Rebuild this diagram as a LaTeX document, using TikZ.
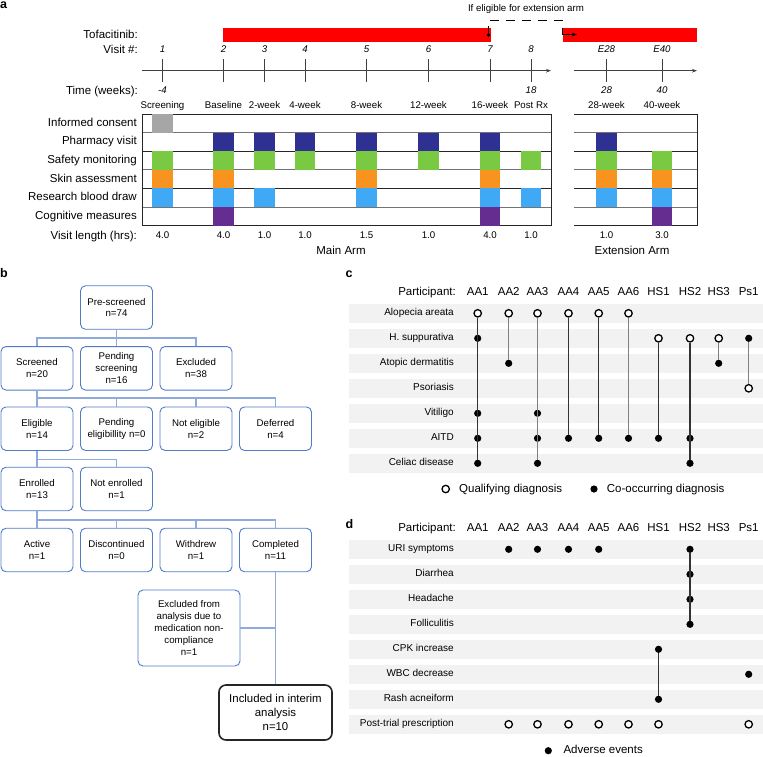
\documentclass[tikz,border=0pt]{standalone}
\usepackage{fontspec}
\setmainfont{Liberation Sans}
\usetikzlibrary{arrows.meta,calc}
\definecolor{cgrey}{HTML}{A6A6A6}
\definecolor{cnavy}{HTML}{2E3192}
\definecolor{cgreen}{HTML}{7AC943}
\definecolor{corange}{HTML}{F7931E}
\definecolor{cblue}{HTML}{3FA9F5}
\definecolor{cpurple}{HTML}{662D91}
\definecolor{bborder}{HTML}{4F7BC8}
\definecolor{bline}{HTML}{8FAADC}
\definecolor{bandc}{HTML}{F2F2F2}
\definecolor{axisc}{HTML}{404040}
\definecolor{tofred}{HTML}{FF0000}
\newcommand\fA{\fontsize{11.5}{13.5}\selectfont}
\newcommand\fB{\fontsize{9.7}{11.8}\selectfont}
\newcommand\fC{\fontsize{10}{12}\selectfont}
\newcommand\fI{\fontsize{11.4}{13.7}\selectfont}
\newcommand\fL{\fontsize{12.5}{14}\selectfont\bfseries}
\tikzset{
 rowlab/.style={anchor=east,inner sep=0,font=\fA,text height=8.3pt,text depth=2.3pt},
 crowlab/.style={anchor=east,inner sep=0,font=\fC,text height=7.2pt,text depth=2pt},
 smalltxt/.style={inner sep=0,font=\fB,text height=7pt,text depth=2pt},
 italtxt/.style={inner sep=0,font=\fB\itshape,text height=7pt,text depth=2pt},
 hdrtxt/.style={inner sep=0,font=\fA,text height=8.3pt,text depth=2.3pt},
 panlab/.style={anchor=base west,inner sep=0,font=\fL},
 axisline/.style={draw=axisc,line width=1pt},
 gridA/.style={draw=black!55,line width=0.9pt},
 gridB/.style={draw=black!85,line width=0.9pt},
 bbox/.style={draw=bborder,line width=0.9pt,rounded corners=5pt,align=center,font=\fB,minimum width=72pt,minimum height=43.5pt,inner sep=1pt},
 conn/.style={draw=bline,line width=1.2pt},
 odot/.style={circle,draw=black,fill=white,line width=1.3pt,minimum size=7.4pt,inner sep=0},
 fdot/.style={circle,fill=black,minimum size=7.2pt,inner sep=0},
 vdark/.style={line width=1.1pt,draw=black!80},
 vgrey/.style={line width=1.1pt,draw=black!50},
 tipA/.style={-{Stealth[length=5pt,width=3.6pt]}}
}
\begin{document}
\begin{tikzpicture}[x=1pt,y=-1pt]
\useasboundingbox (0,0) rectangle (763,756);
% ---------------- panel a ----------------
\node[panlab] (la) at (0,8.5) {a};
\foreach \n/\x in {1/162.5,2/223.5,3/264.5,4/305,5/366.5,6/428.5,7/490,8/531,9/606.5,10/662}
  \coordinate (V\n) at (\x,0);
\node[rowlab] (ltof) at (138,35) {Tofacitinib:};
\node[rowlab] (lvis) at (138,50) {Visit \#:};
\node[rowlab] (ltim) at (138,91) {Time (weeks):};
% red bars
\fill[tofred] (223,28) rectangle (491,42);
\fill[tofred] (563,28) rectangle (697,42);
% extension bracket
\coordinate (bk0) at (488.5,35);
\coordinate (bk1) at (488.5,20);
\coordinate (bk2) at (562,20);
\coordinate (bk3) at (562,34.5);
\coordinate (bk4) at (577,34.5);
\fill[black] (bk0) circle (1.8);
\draw[black,line width=0.9pt,dash pattern=on 9pt off 7pt] (bk0) -- (bk1) -- (bk2) -- (bk3);
\draw[black,line width=0.9pt,tipA] (bk3) -- (bk4);
\node[smalltxt] (lext) at (526,9) {If eligible for extension arm};
% visit numbers
\foreach \n/\t in {1/1,2/2,3/3,4/4,5/5,6/6,7/7,8/8,9/E28,10/E40}
  \node[italtxt] (vn\n) at (V\n |- 0,50) {\t};
% axes
\coordinate (ax0) at (142,70.7);
\coordinate (ax1) at (551,70.7);
\coordinate (ex0) at (574,70.7);
\coordinate (ex1) at (697,70.7);
\draw[axisline,tipA] (ax0) -- (ax1);
\draw[axisline,tipA] (ex0) -- (ex1);
\foreach \n in {1,...,10}
  \draw[axisline] (V\n |- 0,59) -- (V\n |- 0,82);
% times
\foreach \n/\t in {1/-4,8/18,9/28,10/40}
  \node[italtxt] (tm\n) at (V\n |- 0,91) {\t};
% visit names
\foreach \n/\t in {1/Screening,2/Baseline,3/2-week,4/4-week,5/8-week,6/12-week,7/16-week,8/Post Rx,9/28-week,10/40-week}
  \node[smalltxt] (vname\n) at (V\n |- 0,106) {\t};
% grid lines
\foreach \k/\s in {1/gridA,2/gridB,3/gridA,4/gridB,5/gridA}{
  \draw[\s] (142,114+18.6*\k) -- (551,114+18.6*\k);
  \draw[\s] (574,114+18.6*\k) -- (697,114+18.6*\k);
}
\draw[gridB] (142,114) rectangle (551,225.6);
\draw[gridB] (574,114) -- (697,114) -- (697,225.6) -- (574,225.6);
% activity boxes
\foreach \n/\r/\c in {1/0/cgrey,
  2/1/cnavy,3/1/cnavy,4/1/cnavy,5/1/cnavy,6/1/cnavy,7/1/cnavy,9/1/cnavy,
  1/2/cgreen,2/2/cgreen,3/2/cgreen,4/2/cgreen,5/2/cgreen,6/2/cgreen,7/2/cgreen,8/2/cgreen,9/2/cgreen,10/2/cgreen,
  1/3/corange,2/3/corange,5/3/corange,7/3/corange,9/3/corange,10/3/corange,
  1/4/cblue,2/4/cblue,3/4/cblue,5/4/cblue,7/4/cblue,8/4/cblue,9/4/cblue,10/4/cblue,
  2/5/cpurple,7/5/cpurple,10/5/cpurple}
  \fill[\c] ($(V\n |- 0,114)+(-10.25,18.6*\r)$) rectangle ++(20.5,18.6);
% row labels
\foreach \k/\t in {0/Informed consent,1/Pharmacy visit,2/Safety monitoring,3/Skin assessment,4/Research blood draw,5/Cognitive measures}
  \node[rowlab] (rl\k) at (137,123.3+18.6*\k) {\t};
\node[rowlab] (rlen) at (137,236) {Visit length (hrs):};
\foreach \n/\t in {1/4.0,2/4.0,3/1.0,4/1.0,5/1.5,6/1.0,7/4.0,8/1.0,9/1.0,10/3.0}
  \node[smalltxt] (vl\n) at (V\n |- 0,236) {\t};
\node[hdrtxt] (lmain) at (341,251) {Main Arm};
\node[hdrtxt] (lexta) at (632,251) {Extension Arm};
% ---------------- panel b ----------------
\node[panlab] (lb) at (0,277) {b};
\node[bbox] (pre) at (116.5,307.5) {Pre-screened\\n=74};
\node[bbox] (scr) at (37,368.3) {Screened\\n=20};
\node[bbox] (pscr) at (116.5,368.3) {Pending\\screening\\n=16};
\node[bbox] (exc) at (196,368.3) {Excluded\\n=38};
\node[bbox] (eli) at (37,428.7) {Eligible\\n=14};
\node[bbox] (pel) at (116.5,428.7) {Pending\\eligibillity n=0};
\node[bbox] (nel) at (196,428.7) {Not eligible\\n=2};
\node[bbox] (dfr) at (275.5,428.7) {Deferred\\n=4};
\node[bbox] (enr) at (37,489) {Enrolled\\n=13};
\node[bbox] (nen) at (116.5,489) {Not enrolled\\n=1};
\node[bbox] (act) at (37,550) {Active\\n=1};
\node[bbox] (dis) at (116.5,550) {Discontinued\\n=0};
\node[bbox] (wdr) at (196,550) {Withdrew\\n=1};
\node[bbox] (cmp) at (275.5,550) {Completed\\n=11};
\node[bbox,minimum width=102pt,minimum height=76pt] (xan) at (189,628) {Excluded from\\analysis due to\\medication non-\\compliance\\n=1};
\node[bbox,draw=black!85,line width=1.6pt,rounded corners=7pt,minimum width=113pt,minimum height=55pt,font=\fI] (inc) at (275.5,712.5) {Included in interim\\analysis\\n=10};
\coordinate (j1) at (116.5,338);
\draw[conn] (pre.south) -- (j1);
\draw[conn] (scr.north) |- (j1) -| (exc.north);
\draw[conn] (j1) -- (pscr.north);
\coordinate (j2) at (37,398);
\draw[conn] (scr.south) -- (eli.north);
\draw[conn] (j2) -| (dfr.north);
\draw[conn] (pel.north) -- (pel.north |- j2);
\draw[conn] (nel.north) -- (nel.north |- j2);
\coordinate (j3) at (37,459.3);
\draw[conn] (eli.south) -- (enr.north);
\draw[conn] (j3) -| (nen.north);
\coordinate (j4) at (37,520);
\draw[conn] (enr.south) -- (act.north);
\draw[conn] (j4) -| (cmp.north);
\draw[conn] (dis.north) -- (dis.north |- j4);
\draw[conn] (wdr.north) -- (wdr.north |- j4);
\draw[conn] (cmp.south) -- (inc.north);
\draw[conn] (xan.east) -- (xan.east -| cmp.south);
% ---------------- panel c ----------------
\node[panlab] (lc) at (345.5,277) {c};
\foreach \i/\x in {0/477.7,1/508.7,2/537.5,3/568.5,4/598.7,5/628.5,6/658.5,7/690,8/718.7,9/748.7}
  \coordinate (X\i) at (\x,0);
\foreach \k in {0,...,6}{
  \fill[bandc] (349,303.8+25*\k) rectangle (763,322.8+25*\k);
  \coordinate (CR\k) at (0,313.3+25*\k);
}
\node[rowlab] (cpart) at (456,292.7) {Participant:};
\foreach \i/\t in {0/AA1,1/AA2,2/AA3,3/AA4,4/AA5,5/AA6,6/HS1,7/HS2,8/HS3,9/Ps1}
  \node[hdrtxt] (ch\i) at (X\i |- 0,292.7) {\t};
\foreach \k/\t in {0/Alopecia areata,1/H. suppurativa,2/Atopic dermatitis,3/Psoriasis,4/Vitiligo,5/AITD,6/Celiac disease}
  \node[crowlab] (cl\k) at (454,313.3+25*\k) {\t};
\foreach \i/\k in {0/0,1/0,2/0,3/0,4/0,5/0,6/1,7/1,8/1,9/3}
  \node[odot] (c\i-\k) at (X\i |- CR\k) {};
\foreach \i/\k in {0/1,9/1,1/2,8/2,0/4,2/4,0/5,2/5,3/5,4/5,5/5,6/5,7/5,0/6,2/6,7/6}
  \node[fdot] (c\i-\k) at (X\i |- CR\k) {};
\foreach \i/\a/\b/\s in {0/0/6/vdark,1/0/2/vgrey,2/0/6/vgrey,3/0/5/vdark,4/0/5/vdark,5/0/5/vgrey,6/1/5/vdark,7/1/6/vdark,8/1/2/vgrey,9/1/3/vgrey}
  \draw[\s] (c\i-\a) -- (c\i-\b);
\node[odot] (legq) at (445.7,489) {};
\node[hdrtxt,anchor=west] (legqt) at (459,489) {Qualifying diagnosis};
\node[fdot] (legc) at (594,489) {};
\node[hdrtxt,anchor=west] (legct) at (606.7,489) {Co-occurring diagnosis};
% ---------------- panel d ----------------
\node[panlab] (ld) at (345.5,528) {d};
\foreach \k in {0,...,7}{
  \fill[bandc] (349,540.3+25*\k) rectangle (763,558.8+25*\k);
  \coordinate (DR\k) at (0,549.3+25*\k);
}
\node[rowlab] (dpart) at (456,528) {Participant:};
\foreach \i/\t in {0/AA1,1/AA2,2/AA3,3/AA4,4/AA5,5/AA6,6/HS1,7/HS2,8/HS3,9/Ps1}
  \node[hdrtxt] (dh\i) at (X\i |- 0,528) {\t};
\foreach \k/\t in {0/URI symptoms,1/Diarrhea,2/Headache,3/Folliculitis,4/CPK increase,5/WBC decrease,6/Rash acneiform,7/Post-trial prescription}
  \node[crowlab] (dl\k) at (454,549.3+25*\k) {\t};
\foreach \i/\k in {1/0,2/0,3/0,4/0,7/0,7/1,7/2,7/3,6/4,9/5,6/6}
  \node[fdot] (d\i-\k) at (X\i |- DR\k) {};
\foreach \i/\k in {1/7,2/7,3/7,4/7,5/7,6/7,9/7}
  \node[odot] (d\i-\k) at (X\i |- DR\k) {};
\draw[vdark] (d7-0) -- (d7-3);
\draw[vdark] (d6-4) -- (d6-6);
\node[fdot] (lega) at (548.3,750.7) {};
\node[hdrtxt,anchor=west] (legat) at (563.3,750.7) {Adverse events};
\end{tikzpicture}
\end{document}
